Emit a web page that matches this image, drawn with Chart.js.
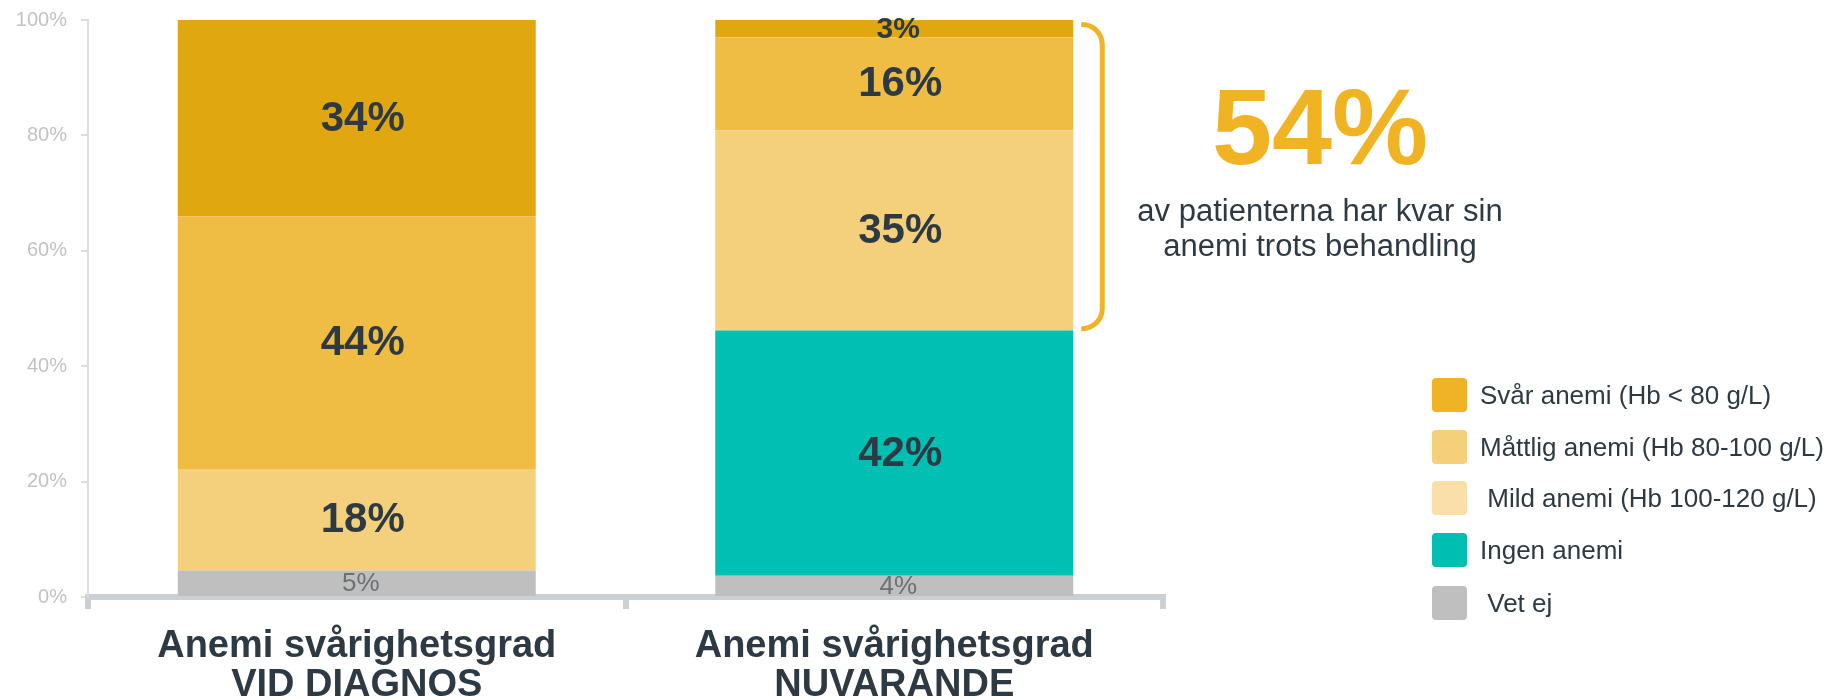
<!DOCTYPE html>
<html><head><meta charset="utf-8">
<script src="https://cdn.jsdelivr.net/npm/chart.js@4.4.0/dist/chart.umd.min.js"></script>
<style>html,body{margin:0;padding:0;background:#fff}#wrap{position:relative;width:1839px;height:699px}</style>
</head><body><div id="wrap"><canvas id="c" width="1839" height="699"></canvas></div>
<script>
// ---- data ----
const categories = [['Anemi svårighetsgrad', 'VID DIAGNOS'], ['Anemi svårighetsgrad', 'NUVARANDE']];
const seriesNames = [' Vet ej', 'Ingen anemi', ' Mild anemi (Hb 100-120 g/L)', 'Måttlig anemi (Hb 80-100 g/L)', 'Svår anemi (Hb < 80 g/L)'];
const vetEj = [4.6, 3.7];
const ingenAnemi = [0, 42.5];
const mildAnemi = [17.6, 34.7];
const mattligAnemi = [43.8, 16.1];
const svarAnemi = [34.0, 3.0];
const vetEjLabels = ['5%', '4%'];
const ingenAnemiLabels = [null, '42%'];
const mildAnemiLabels = ['18%', '35%'];
const mattligAnemiLabels = ['44%', '16%'];
const svarAnemiLabels = ['34%', '3%'];
const yTicks = [0, 20, 40, 60, 80, 100];
const calloutValue = '54%';
const calloutText = ['av patienterna har kvar sin', 'anemi trots behandling'];
const bracketRange = [99.2, 46.5];

const FONT = "'Liberation Sans', Arial, sans-serif";
const DARK = '#2d3a44';
const barColors = ['#bfbfbf', '#00bfb3', '#f4d07c', '#f0bd44', '#e1a711'];
const legendColors = ['#bfbfbf', '#00bfb2', '#fae0a8', '#f5cf7a', '#f0b325'];

const labelPlugin = {
  id: 'segLabels',
  afterDatasetsDraw(chart) {
    const ctx = chart.ctx;
    chart.data.datasets.forEach((ds, di) => {
      const meta = chart.getDatasetMeta(di);
      meta.data.forEach((el, i) => {
        const txt = ds.valueLabels[i];
        if (!txt) return;
        const y = (el.y + el.base) / 2;
        const h = Math.abs(el.base - el.y);
        let dx = 6;
        ctx.save();
        ctx.textAlign = 'center';
        ctx.textBaseline = 'middle';
        if (di === 0) {
          ctx.font = '26px ' + FONT;
          ctx.fillStyle = '#6b7074';
          dx = 4;
        } else if (h < 25) {
          ctx.font = 'bold 30px ' + FONT;
          ctx.fillStyle = DARK;
          dx = 4;
        } else {
          ctx.font = 'bold 42px ' + FONT;
          ctx.fillStyle = DARK;
        }
        ctx.fillText(txt, el.x + dx, y + 1);
        ctx.restore();
      });
    });
  }
};

const extrasPlugin = {
  id: 'extras',
  afterDraw(chart) {
    const ctx = chart.ctx;
    const ys = chart.scales.y;
    // bracket
    const el = chart.getDatasetMeta(4).data[1];
    const x0 = el.x + el.width / 2 + 8;
    const x1 = x0 + 21;
    const yt = ys.getPixelForValue(bracketRange[0]);
    const yb = ys.getPixelForValue(bracketRange[1]);
    const r = 20;
    ctx.save();
    ctx.strokeStyle = '#f0b323';
    ctx.lineWidth = 5;
    ctx.lineCap = 'butt';
    ctx.beginPath();
    ctx.moveTo(x0, yt);
    ctx.arcTo(x1, yt, x1, yt + r, r);
    ctx.lineTo(x1, yb - r);
    ctx.arcTo(x1, yb, x0, yb, r);
    ctx.lineTo(x0, yb);
    ctx.stroke();
    // callout
    const cx = 1320;
    ctx.textAlign = 'center';
    ctx.fillStyle = '#f0b323';
    ctx.font = 'bold 108px ' + FONT;
    ctx.textBaseline = 'alphabetic';
    ctx.fillText(calloutValue, cx, 164);
    ctx.fillStyle = DARK;
    ctx.font = '31px ' + FONT;
    ctx.textBaseline = 'middle';
    ctx.fillText(calloutText[0], cx, 212);
    ctx.fillText(calloutText[1], cx, 247);
    // legend
    const order = [4, 3, 2, 1, 0];
    const rows = [395, 447, 498, 550, 603];
    ctx.textAlign = 'left';
    ctx.font = '26px ' + FONT;
    order.forEach((di, k) => {
      const cy = rows[k];
      ctx.fillStyle = legendColors[di];
      ctx.beginPath();
      if (ctx.roundRect) ctx.roundRect(1432, cy - 17, 35, 34, 4); else ctx.rect(1432, cy - 17, 35, 34);
      ctx.fill();
      ctx.fillStyle = DARK;
      ctx.fillText(chart.data.datasets[di].label, 1480, cy + 2);
    });
    ctx.restore();
  }
};

const mk = (i, data, labels) => ({
  label: seriesNames[i], data: data, valueLabels: labels,
  backgroundColor: barColors[i], borderWidth: 0,
  barPercentage: 0.666, categoryPercentage: 1
});

new Chart(document.getElementById('c'), {
  type: 'bar',
  data: {
    labels: categories,
    datasets: [
      mk(0, vetEj, vetEjLabels),
      mk(1, ingenAnemi, ingenAnemiLabels),
      mk(2, mildAnemi, mildAnemiLabels),
      mk(3, mattligAnemi, mattligAnemiLabels),
      mk(4, svarAnemi, svarAnemiLabels)
    ]
  },
  options: {
    responsive: false,
    animation: false,
    layout: { padding: { left: 0, right: 676, top: 20, bottom: 0 } },
    plugins: { legend: { display: false }, tooltip: { enabled: false } },
    scales: {
      x: {
        stacked: true,
        afterFit(s) { s.height = 102; },
        grid: { display: true, drawOnChartArea: false, drawTicks: true, tickLength: 12, lineWidth: 6, color: '#cbd0d4', offset: true },
        border: { display: true, width: 6, color: '#cbd0d4' },
        ticks: { padding: 18, color: DARK, font: { family: FONT, size: 38, weight: 'bold', lineHeight: 1.03 } }
      },
      y: {
        stacked: true, min: 0, max: 100,
        afterFit(s) { s.width = 88; s.paddingTop = 0; s.paddingBottom = 0; },
        afterBuildTicks(s) { s.ticks = yTicks.map(v => ({ value: v })); },
        grid: { display: true, drawOnChartArea: false, drawTicks: true, tickLength: 7, lineWidth: 2, color: '#dcdcdc' },
        border: { display: true, width: 2, color: '#dcdcdc' },
        ticks: { padding: 14, color: '#c2c2c2', font: { family: FONT, size: 20 }, callback: v => v + '%' }
      }
    }
  },
  plugins: [labelPlugin, extrasPlugin]
});
</script></body></html>
